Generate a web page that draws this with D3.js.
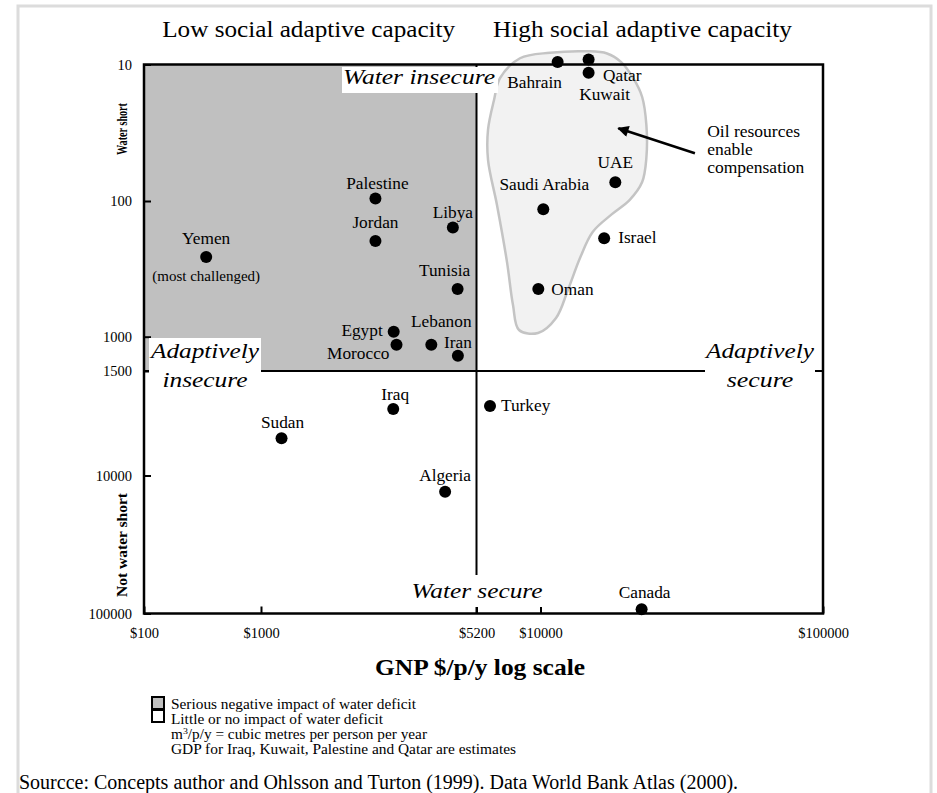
<!DOCTYPE html>
<html>
<head>
<meta charset="utf-8">
<script src="https://cdn.jsdelivr.net/npm/d3@7"></script>
<style>
  html, body { margin: 0; padding: 0; background: #fff; }
  svg { display: block; }
  text { font-family: "Liberation Serif", "Times New Roman", serif; fill: #000; }
</style>
</head>
<body>
<svg id="chart" width="937" height="793"></svg>
<script>
// Axis ticks (GNP in $ per person per year, water in m3 per person per year)
const gnpTicks = [100, 1000, 5200, 10000, 100000];
const waterTicks = [10, 100, 1000, 1500, 10000, 100000];

// Countries
const countries = ["Yemen", "Palestine", "Jordan", "Libya", "Tunisia", "Egypt", "Morocco",
  "Lebanon", "Iran", "Iraq", "Sudan", "Algeria", "Turkey", "Canada", "Bahrain", "Kuwait",
  "Qatar", "UAE", "Saudi Arabia", "Israel", "Oman"];
const gnp = [340, 2400, 2400, 4340, 4500, 2760, 2820, 3680, 4510, 2750, 1170, 4090, 5970,
  22800, 11500, 14800, 14800, 18400, 10230, 16800, 9780];
const water = [259, 96, 197, 157, 445, 919, 1100, 1100, 1252, 2990, 5090, 13100, 2830,
  93200, 9.6, 9.2, 11.5, 72.9, 115, 188, 445];

// Outline of the oil-rich group (GNP, water)
const oilGnp = [8110, 10800, 14600, 17200, 19300, 21300, 22900, 23700, 23700, 22900, 20700,
  17900, 15300, 13800, 12500, 11350, 9750, 8030, 7550, 7100, 6410, 5850, 5850, 6220, 6610];
const oilWater = [9.0, 8.2, 8.0, 8.3, 9.6, 12.6, 17.3, 27.7, 48.4, 72.6, 98, 125, 169, 263,
  453, 728, 939, 892, 584, 281, 107, 50, 30, 18.2, 12.6];

// Thresholds dividing the quadrants
const gnpThreshold = 5200;
const waterThreshold = 1500;

// Label placement around each dot: [dx, dy, anchor]
const labelPlacement = {
  "Yemen": [0, -13, "middle"], "Palestine": [2, -10, "middle"], "Jordan": [0, -13, "middle"],
  "Libya": [0, -10, "middle"], "Tunisia": [-13, -13, "middle"], "Egypt": [-11, 4, "end"],
  "Morocco": [-7, 14, "end"], "Lebanon": [10, -18, "middle"], "Iran": [0, -8, "middle"],
  "Iraq": [2, -9, "middle"], "Sudan": [1, -10, "middle"], "Algeria": [0, -11, "middle"],
  "Turkey": [11, 5, "start"], "Canada": [3, -11, "middle"], "Bahrain": [-23, 26, "middle"],
  "Kuwait": [16, 40, "middle"], "Qatar": [14.5, 8.5, "start"], "UAE": [0, -14, "middle"],
  "Saudi Arabia": [1, -19, "middle"], "Israel": [14, 5, "start"], "Oman": [13, 6, "start"]
};

const svg = d3.select("#chart");
const serif = "'Liberation Serif', 'Times New Roman', serif";

// Outer frame
svg.append("rect").attr("x", 18).attr("y", 6).attr("width", 913).attr("height", 820)
  .attr("fill", "none").attr("stroke", "#dcdcdc").attr("stroke-width", 3);

// Stepped log scales (the axes are drawn schematically, with unequal decades)
const x = d3.scaleLog().domain(gnpTicks).range([144, 261, 476.5, 540.5, 823]);
const y = d3.scaleLog().domain(waterTicks).range([64.5, 201, 336.7, 371, 475.5, 613.5]);

const plotLeft = x(gnpTicks[0]), plotRight = x(gnpTicks[gnpTicks.length - 1]);
const plotTop = y(waterTicks[0]), plotBottom = y(waterTicks[waterTicks.length - 1]);

// Column headings
svg.append("text").attr("x", 308.7).attr("y", 37).attr("text-anchor", "middle")
  .style("font-size", "23px").attr("textLength", 293).attr("lengthAdjust", "spacingAndGlyphs")
  .text("Low social adaptive capacity");
svg.append("text").attr("x", 642.5).attr("y", 37).attr("text-anchor", "middle")
  .style("font-size", "23px").attr("textLength", 299).attr("lengthAdjust", "spacingAndGlyphs")
  .text("High social adaptive capacity");

// Water-insecure, low-capacity quadrant
svg.append("rect")
  .attr("x", x(gnpTicks[0])).attr("y", y(waterTicks[0]))
  .attr("width", x(gnpThreshold) - x(gnpTicks[0]))
  .attr("height", y(waterThreshold) - y(waterTicks[0]))
  .attr("fill", "#c0c0c0");

// Oil-rich group outline
const blob = d3.line().x(d => x(d[0])).y(d => y(d[1])).curve(d3.curveCatmullRomClosed.alpha(0.5));
svg.append("path")
  .attr("d", blob(oilGnp.map((g, i) => [g, oilWater[i]])))
  .attr("fill", "#f2f2f2").attr("stroke", "#c4c4c4").attr("stroke-width", 2.5);

// Quadrant dividers
svg.append("line").attr("x1", x(gnpThreshold)).attr("x2", x(gnpThreshold))
  .attr("y1", plotTop).attr("y2", plotBottom).attr("stroke", "#000").attr("stroke-width", 2);
svg.append("line").attr("x1", plotLeft).attr("x2", plotRight)
  .attr("y1", y(waterThreshold)).attr("y2", y(waterThreshold))
  .attr("stroke", "#000").attr("stroke-width", 2);

// Axes with inward ticks
const xAxis = svg.append("g").attr("transform", `translate(0,${plotBottom})`)
  .call(d3.axisBottom(x).tickValues(gnpTicks).tickFormat(d => "$" + d)
    .tickSizeInner(-7).tickSizeOuter(0).tickPadding(14));
const yAxis = svg.append("g").attr("transform", `translate(${plotLeft},0)`)
  .call(d3.axisLeft(y).tickValues(waterTicks).tickFormat(d => String(d))
    .tickSizeInner(-7).tickSizeOuter(0).tickPadding(12));
[xAxis, yAxis].forEach(a => {
  a.select(".domain").remove();
  a.selectAll(".tick line").attr("stroke", "#000").attr("stroke-width", 2);
  a.selectAll(".tick text").attr("font-family", serif).style("font-size", "14.5px").attr("fill", "#000");
});

// Plot frame
svg.append("rect").attr("x", plotLeft).attr("y", plotTop)
  .attr("width", plotRight - plotLeft).attr("height", plotBottom - plotTop)
  .attr("fill", "none").attr("stroke", "#000").attr("stroke-width", 2.5);

// Quadrant captions on white panels: each line is [text, baseline, width]
function caption(lines, cx, box) {
  svg.append("rect").attr("x", box[0]).attr("y", box[1])
    .attr("width", box[2] - box[0]).attr("height", box[3] - box[1]).attr("fill", "#fff");
  lines.forEach(([s, base, w]) => svg.append("text").attr("text-anchor", "middle")
    .attr("x", cx).attr("y", base)
    .style("font-size", "21px").style("font-style", "italic")
    .attr("textLength", w).attr("lengthAdjust", "spacingAndGlyphs")
    .text(s));
}
caption([["Water insecure", 84, 152]], 419, [342, 67, 498, 93]);
caption([["Adaptively", 358, 108], ["insecure", 387, 85]], 205, [149, 338, 261, 392]);
caption([["Adaptively", 358, 108], ["secure", 387, 66.5]], 760, [705, 338, 815, 392]);
caption([["Water secure", 598, 131]], 477, [410, 575, 546, 607]);

// Annotation for the oil-rich group
svg.append("defs").append("marker").attr("id", "head")
  .attr("viewBox", "0 0 10 10").attr("refX", 9).attr("refY", 5)
  .attr("markerWidth", 5).attr("markerHeight", 4.5).attr("orient", "auto")
  .append("path").attr("d", "M0,0 L10,5 L0,10 Z").attr("fill", "#000");
svg.append("line")
  .attr("x1", x(35200)).attr("y1", y(44.7)).attr("x2", x(18860)).attr("y2", y(29.3))
  .attr("stroke", "#000").attr("stroke-width", 2.5).attr("marker-end", "url(#head)");
const note = svg.append("text").style("font-size", "17.5px");
["Oil resources", "enable", "compensation"].forEach((s, i) =>
  note.append("tspan").attr("x", x(38900)).attr("y", y(33.8) + i * 18.3).text(s));

// Country dots and labels
const pts = countries.map((c, i) => ({ name: c, g: gnp[i], w: water[i] }));
svg.append("g").selectAll("circle").data(pts).join("circle")
  .attr("cx", d => x(d.g)).attr("cy", d => y(d.w)).attr("r", 6).attr("fill", "#000");
svg.append("g").selectAll("text").data(pts).join("text")
  .attr("x", d => x(d.g) + labelPlacement[d.name][0])
  .attr("y", d => y(d.w) + labelPlacement[d.name][1])
  .attr("text-anchor", d => labelPlacement[d.name][2])
  .style("font-size", "17.3px")
  .text(d => d.name);
svg.append("text")
  .attr("x", x(gnp[0])).attr("y", y(water[0]) + 24)
  .attr("text-anchor", "middle").style("font-size", "15px")
  .text("(most challenged)");

// Axis titles
svg.append("text").attr("x", 480).attr("y", 675).attr("text-anchor", "middle")
  .style("font-size", "23px").style("font-weight", "bold")
  .attr("textLength", 210).attr("lengthAdjust", "spacingAndGlyphs")
  .text("GNP $/p/y log scale");
svg.append("text").attr("transform", "translate(127,129) rotate(-90)")
  .attr("text-anchor", "middle").style("font-size", "15px").style("font-weight", "bold")
  .attr("textLength", 52).attr("lengthAdjust", "spacingAndGlyphs")
  .text("Water short");
svg.append("text").attr("transform", "translate(127,545) rotate(-90)")
  .attr("text-anchor", "middle").style("font-size", "15px").style("font-weight", "bold")
  .attr("textLength", 104).attr("lengthAdjust", "spacingAndGlyphs")
  .text("Not water short");

// Legend
const legend = svg.append("g");
legend.append("rect").attr("x", 152).attr("y", 697).attr("width", 12).attr("height", 12)
  .attr("fill", "#c0c0c0").attr("stroke", "#000").attr("stroke-width", 2);
legend.append("rect").attr("x", 152).attr("y", 710).attr("width", 12).attr("height", 12)
  .attr("fill", "#fff").attr("stroke", "#000").attr("stroke-width", 2);
const legendLines = ["Serious negative impact of water deficit", "Little or no impact of water deficit",
  null, "GDP for Iraq, Kuwait, Palestine and Qatar are estimates"];
const legendWidths = [245, 212, 256, 345];
legendLines.forEach((s, i) => {
  const t = legend.append("text").attr("x", 171).attr("y", 709 + i * 15)
    .style("font-size", "14px")
    .attr("textLength", legendWidths[i]).attr("lengthAdjust", "spacingAndGlyphs");
  if (s) t.text(s);
  else {
    t.append("tspan").text("m");
    t.append("tspan").attr("dy", -5).style("font-size", "9px").text("3");
    t.append("tspan").attr("dy", 5).text("/p/y = cubic metres per person per year");
  }
});

// Source line
svg.append("text").attr("x", 19).attr("y", 789).style("font-size", "20px")
  .text("Sourcce: Concepts author and Ohlsson and Turton (1999). Data World Bank Atlas (2000).");
</script>
</body>
</html>
